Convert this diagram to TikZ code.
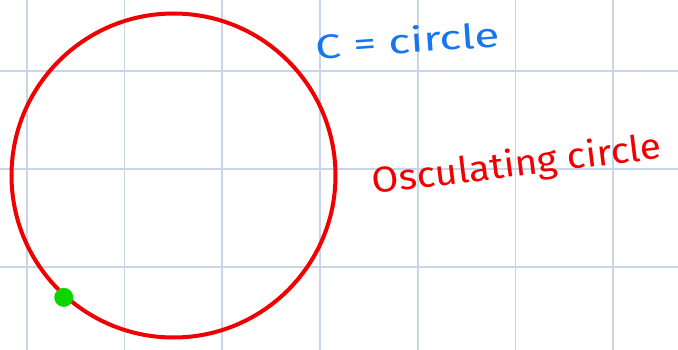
\documentclass[tikz,border=0pt]{standalone}
\usepackage{graphicx}
\usepackage{fontspec}
\setmainfont{Fira Sans}
\definecolor{gridc}{RGB}{200,212,232}
\definecolor{curvered}{RGB}{240,0,0}
\definecolor{penblue}{RGB}{22,118,240}
\definecolor{dotgreen}{RGB}{12,212,0}
\tikzset{
  gridline/.style={draw=gridc, line width=1.1pt},
  osccircle/.style={circle, draw=curvered, line width=4pt, minimum size=324pt, inner sep=0pt},
  pointdot/.style={circle, fill=dotgreen, minimum width=19pt, minimum height=19pt, inner sep=0pt},
  bluetext/.style={text=penblue, font=\fontsize{34}{40}\selectfont, inner sep=0pt},
  redtext/.style={text=curvered, font=\fontsize{36}{42}\selectfont, inner sep=0pt}
}
\begin{document}
\begin{tikzpicture}[x=1pt,y=-1pt]
\useasboundingbox (0,0) rectangle (678,350);
\fill[white] (0,0) rectangle (678,350);
\foreach \x in {27,124.5,222,320,418,515.5,613} \draw[gridline] (\x,0) -- (\x,350);
\foreach \y in {71,169,267} \draw[gridline] (0,\y) -- (678,\y);
\node[osccircle] (osc) at (173.5,175.5) {};
\node[pointdot] (pt) at (osc.228) {};
\node[bluetext, rotate=4] (ceq) at (408,40) {\scalebox{1.35}[1]{C = circle}};
\node[redtext, rotate=7] (osclabel) at (517,166) {\scalebox{1.08}[1]{Osculating circle}};
\end{tikzpicture}
\end{document}
